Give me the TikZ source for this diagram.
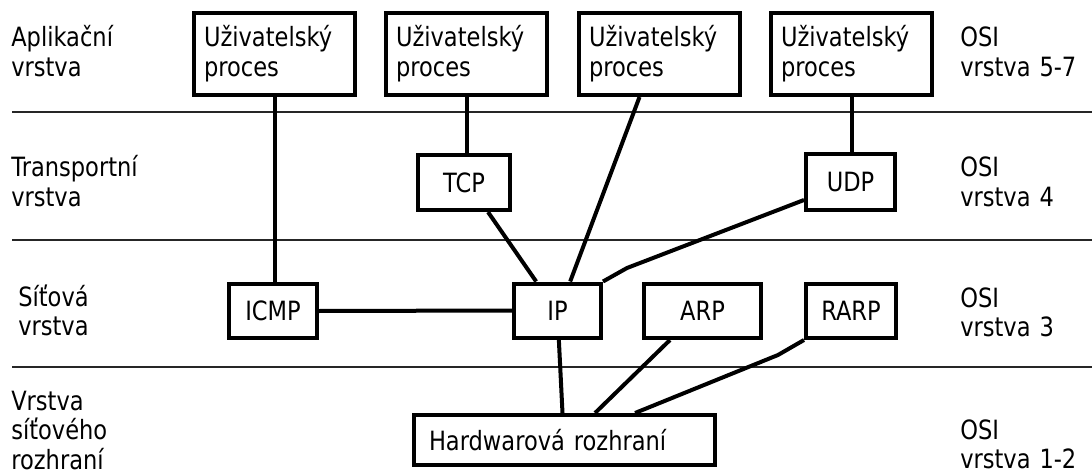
\documentclass[tikz,border=0pt]{standalone}
\usepackage{fontspec}
\setmainfont{DejaVu Sans}[FakeStretch=0.85]
\begin{document}
\begin{tikzpicture}[x=0.75pt,y=-0.75pt,
  font=\fontsize{19.9}{22.4}\selectfont,
  box/.style={draw, line width=3pt, inner sep=0pt, align=center, fill=white},
  upbox/.style={box, text width=105.75pt, inner xsep=7.5pt, minimum height=61.5pt, align=left},
  smallbox/.style={box, minimum height=41.25pt},
  link/.style={line width=3pt},
  layerline/.style={line width=1.5pt, black!85},
  lbl/.style={anchor=base west, inner sep=0pt, text width=150pt, align=left}]
\useasboundingbox (0,0) rectangle (1092,474);
% layer separators
\coordinate (l1a) at (12,112);   \coordinate (l1b) at (1092,112);
\coordinate (l2a) at (12,239.5); \coordinate (l2b) at (1092,239.5);
\coordinate (l3a) at (12,367);   \coordinate (l3b) at (1092,367);
\draw[layerline] (l1a) -- (l1b);
\draw[layerline] (l2a) -- (l2b);
\draw[layerline] (l3a) -- (l3b);
% labels
\node[lbl] (appl) at (11,47) {Aplikační\\vrstva};
\node[lbl] (trl) at (11,177) {Transportní\\vrstva};
\node[lbl] (netl) at (18,306) {Síťová\\vrstva};
\node[lbl] (hwl) at (11,410) {Vrstva\\síťového\\rozhraní};
\node[lbl] (osi1) at (960,47) {OSI\\vrstva 5-7};
\node[lbl] (osi2) at (960,177) {OSI\\vrstva 4};
\node[lbl] (osi3) at (960,307) {OSI\\vrstva 3};
\node[lbl] (osi4) at (960,439) {OSI\\vrstva 1-2};
% boxes
\node[upbox] (u1) at (274.5,54) {Uživatelský\\proces};
\node[upbox] (u2) at (466.5,54) {Uživatelský\\proces};
\node[upbox] (u3) at (659.5,54) {Uživatelský\\proces};
\node[upbox] (u4) at (851.5,54) {Uživatelský\\proces};
\node[smallbox, minimum width=69pt] (tcp) at (464,182.5) {TCP};
\node[smallbox, minimum width=66.75pt] (udp) at (850.5,182) {UDP};
\node[smallbox, minimum width=66pt, minimum height=40.5pt] (icmp) at (273,311) {ICMP};
\node[smallbox, minimum width=65.25pt, minimum height=40.5pt] (ip) at (557.5,310.5) {IP};
\node[smallbox, minimum width=87.75pt, minimum height=40.5pt] (arp) at (702.5,311) {ARP};
\node[smallbox, minimum width=67.5pt, minimum height=40.5pt] (rarp) at (851,311) {RARP};
\node[box, text width=203.25pt, inner xsep=11.25pt, minimum height=37.5pt, align=left] (hw) at (564.5,440) {Hardwarová rozhraní};
% connectors
\coordinate (bend1) at (627,268);
\coordinate (bend2) at (778,355);
\draw[link] (u1.south) -- (u1.south |- icmp.north);
\draw[link] (u2.south) -- (u2.south |- tcp.north);
\draw[link] (u4.south) -- (u4.south |- udp.north);
\draw[link] ([xshift=18pt]tcp.south) -- ([xshift=-16pt]ip.north);
\draw[link] ([xshift=-15pt]u3.south) -- ([xshift=9.5pt]ip.north);
\draw[link] ([yshift=-13.5pt]udp.west) -- (bend1) -- (ip.north east);
\draw[link] (icmp.east) -- (ip.west);
\draw[link] ([xshift=1pt]ip.south) -- ([xshift=-1.5pt]hw.north);
\draw[link] ([xshift=-24.4pt]arp.south) -- ([xshift=22.9pt]hw.north);
\draw[link] (rarp.south west) -- (bend2) -- ([xshift=52.9pt]hw.north);
\end{tikzpicture}
\end{document}
